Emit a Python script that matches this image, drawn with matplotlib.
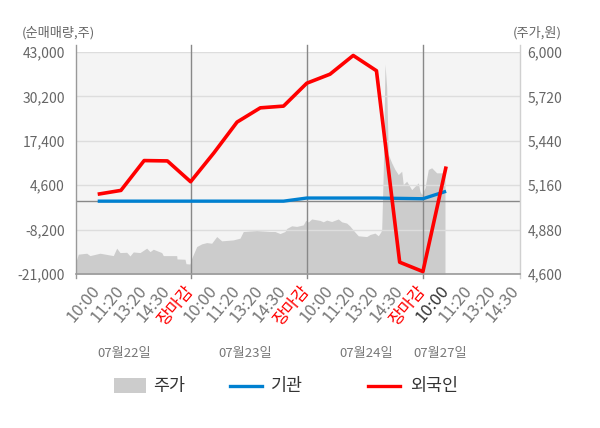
import matplotlib
matplotlib.use("Agg")
import matplotlib.pyplot as plt
from matplotlib.patches import Rectangle
from matplotlib.lines import Line2D
from matplotlib.ticker import FuncFormatter

plt.rcParams["font.family"] = ["Noto Sans CJK KR", "DejaVu Sans"]

# x axis: one slot per label
tick_labels = ["10:00", "11:20", "13:20", "14:30", "장마감"] * 3 + ["10:00", "11:20", "13:20", "14:30"]
close_idx = [4, 9, 14]
day_labels = ["07월22일", "07월23일", "07월24일", "07월27일"]

# net buying (shares), one value per slot up to 07/27 10:00
foreign = [2000, 3100, 11700, 11600, 5600, 13900, 22800, 26900, 27400,
           34000, 36600, 42000, 37600, -17600, -20300, 10000]
institution = [0, 0, 0, 0, 0, 0, 0, 0, 0,
               900, 900, 900, 900, 800, 700, 2850]

# share price (won), intraday
price_x = [-0.934, -0.835, -0.474, -0.331, 0.099, 0.672, 0.818, 0.96, 1.248, 1.39,
           1.532, 1.821, 2.109, 2.251, 2.393, 2.755, 2.824, 3.401, 3.414, 3.758,
           3.801, 3.973, 4.046, 4.262, 4.477, 4.692, 4.907, 5.123, 5.338, 5.837,
           6.126, 6.268, 6.845, 7.417, 7.632, 7.848, 8.063, 8.136, 8.351, 8.567,
           8.851, 8.954, 9.066, 9.212, 9.569, 9.712, 9.858, 10.073, 10.357, 10.504,
           10.719, 10.861, 11.076, 11.218, 11.58, 11.722, 11.937, 12.079, 12.183, 12.226,
           12.294, 12.368, 12.441, 12.51, 12.656, 12.798, 12.94, 13.087, 13.155, 13.302,
           13.517, 13.659, 13.801, 13.874, 13.948, 14.09, 14.232, 14.378, 14.593, 14.951]
price = [4678, 4725, 4731, 4716, 4731, 4716, 4763, 4735, 4737, 4714,
         4739, 4735, 4763, 4741, 4756, 4735, 4716, 4716, 4695, 4693,
         4665, 4663, 4699, 4773, 4790, 4798, 4794, 4836, 4809, 4815,
         4826, 4868, 4874, 4868, 4868, 4855, 4868, 4887, 4904, 4900,
         4910, 4938, 4928, 4947, 4938, 4929, 4940, 4931, 4947, 4929,
         4921, 4902, 4864, 4841, 4836, 4849, 4858, 4841, 4864, 4879,
         5248, 5924, 5776, 5354, 5301, 5259, 5227, 5248, 5164, 5185,
         5132, 5153, 5175, 5121, 5100, 5143, 5259, 5270, 5238, 5238]

left_ticks = [43000, 30200, 17400, 4600, -8200, -21000]
right_ticks = [6000, 5720, 5440, 5160, 4880, 4600]

W, H = 600, 428


def fx(x):
    return x / W


def fy(y):
    return 1 - y / H


fig = plt.figure(figsize=(6, 4.28), dpi=100)
ax2 = fig.add_axes([fx(76), fy(274), fx(520) - fx(76), fy(52) - fy(274)])
ax = ax2.twinx()
ax.yaxis.tick_left()
ax2.yaxis.tick_right()
ax.set_zorder(ax2.get_zorder() + 1)
ax.patch.set_visible(False)
ax2.set_facecolor("#f4f4f4")

xlim = (-0.934, 18.18)
x = list(range(len(foreign)))

ax2.fill_between(price_x, price, 4600, color="#cccccc", lw=0)
ax2.set_ylim(4600, 6000)
ax2.set_xlim(*xlim)

ax.set_ylim(-21000, 43000)
for v in left_ticks:
    ax.axhline(v, color="#dddddd", lw=1, zorder=1)
ax.axhline(0, color="#888888", lw=1, zorder=2)
for i in close_idx:
    ax.axvline(i, ymin=-0.018, ymax=1.03, color="#888888", lw=1, clip_on=False, zorder=2)

ax.plot(x, institution, color="#0080d0", lw=2.4, zorder=3, solid_capstyle="butt")
ax.plot(x, foreign, color="#ff0000", lw=2.6, zorder=4, solid_capstyle="butt")

for a in (ax, ax2):
    for s in a.spines.values():
        s.set_visible(False)
ax.plot([0, 0], [-0.018, 1.03], transform=ax.transAxes, color="#999999", lw=1, clip_on=False)
ax.plot([1, 1], [-0.018, 1.03], transform=ax.transAxes, color="#d0d0d0", lw=1, clip_on=False)
ax.plot([0, 1], [0, 0], transform=ax.transAxes, color="#999999", lw=1.2, clip_on=False)

ax.set_yticks(left_ticks)
ax.yaxis.set_major_formatter(FuncFormatter(lambda v, _: f"{v:,.0f}"))
ax.tick_params(axis="y", length=0, pad=8, labelsize=10, labelcolor="#666666")
ax2.set_yticks(right_ticks)
ax2.yaxis.set_major_formatter(FuncFormatter(lambda v, _: f"{v:,.0f}"))
ax2.tick_params(axis="y", length=0, pad=5.5, labelsize=10, labelcolor="#666666")

# the twin hides its own x axis, so the time labels live on ax2
ax2.set_xticks(range(len(tick_labels)))
ax2.set_xticklabels(tick_labels)
ax2.tick_params(axis="x", length=0, pad=10, labelsize=12)
for i, t in enumerate(ax2.get_xticklabels()):
    t.set_rotation(50)
    t.set_ha("right")
    t.set_va("center")
    t.set_rotation_mode("anchor")
    if tick_labels[i] == "장마감":
        t.set_color("#ff0000")
    elif i == 15:
        t.set_color("#333333")
    else:
        t.set_color("#777777")

# date labels under the time ticks
for lbl, cx in zip(day_labels, [124, 245, 366, 440.5]):
    fig.text(fx(cx), fy(353), lbl, ha="center", va="center", fontsize=9.5, color="#777777")

fig.text(fx(22), fy(33), "(순매매량,주)", ha="left", va="center", fontsize=9.5, color="#666666")
fig.text(fx(562), fy(33), "(주가,원)", ha="right", va="center", fontsize=9.5, color="#666666")

# legend
fig.patches.append(Rectangle((fx(114.3), fy(393.3)), fx(31.4), 15 / H,
                             transform=fig.transFigure, color="#cccccc", lw=0))
fig.text(fx(153), fy(386), "주가", ha="left", va="center", fontsize=12.5, color="#333333")
fig.lines.append(Line2D([fx(230), fx(262)], [fy(386), fy(386)], transform=fig.transFigure,
                        color="#0080d0", lw=2.4))
fig.text(fx(270.7), fy(386), "기관", ha="left", va="center", fontsize=12.5, color="#333333")
fig.lines.append(Line2D([fx(368), fx(400)], [fy(386), fy(386)], transform=fig.transFigure,
                        color="#ff0000", lw=2.4))
fig.text(fx(410), fy(386), "외국인", ha="left", va="center", fontsize=12.5, color="#333333")

fig.savefig("out.png", dpi=100)
